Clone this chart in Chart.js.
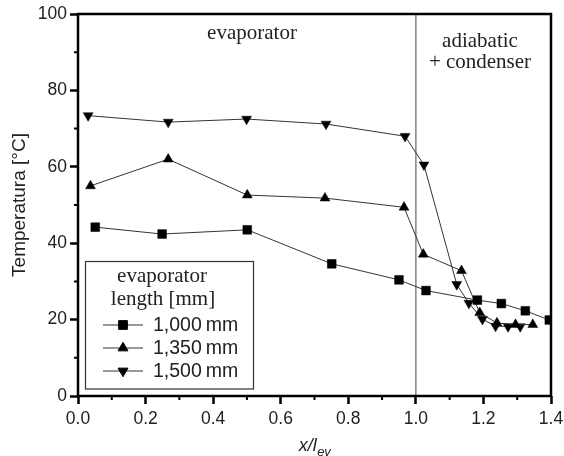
<!DOCTYPE html>
<html>
<head>
<meta charset="utf-8">
<script src="https://cdn.jsdelivr.net/npm/chart.js@4.4.1/dist/chart.umd.min.js"></script>
<style>
  html, body { margin: 0; padding: 0; background: #fff; }
  #wrap { width: 564px; height: 456px; }
</style>
</head>
<body>
<div id="wrap"><canvas id="myChart"></canvas></div>
<script>
// valores
const seriesLabels = ['1,000\u2009mm', '1,350\u2009mm', '1,500\u2009mm'];
const x1000 = [0.051, 0.249, 0.501, 0.751, 0.950, 1.030, 1.182, 1.253, 1.324, 1.395];
const t1000 = [44.2, 42.4, 43.5, 34.6, 30.4, 27.6, 25.1, 24.2, 22.3, 19.9];
const x1350 = [0.037, 0.267, 0.501, 0.731, 0.965, 1.022, 1.135, 1.189, 1.240, 1.295, 1.346];
const t1350 = [55.0, 62.0, 52.6, 51.8, 49.4, 37.1, 32.8, 21.8, 19.1, 18.7, 18.7];
const x1500 = [0.030, 0.267, 0.499, 0.734, 0.968, 1.024, 1.121, 1.157, 1.197, 1.236, 1.273, 1.309];
const t1500 = [73.4, 71.7, 72.5, 71.2, 68.0, 60.5, 29.2, 24.3, 20.1, 18.3, 18.2, 18.2];
const xMinorTicks = [0.1, 0.3, 0.5, 0.7, 0.9, 1.1, 1.3];
const yMinorTicks = [10, 30, 50, 70, 90];
const dividerX = 1.0;
const legendTitle = ['evaporator', 'length [mm]'];
const regionLabels = ['evaporator', 'adiabatic', '+ condenser'];

const ctx = document.getElementById('myChart');

function toPoints(xs, ys) {
  return xs.map((x, i) => ({ x: x, y: ys[i] }));
}

function serie(label, xs, ys, style, rot, r) {
  return {
    label: label,
    data: toPoints(xs, ys),
    showLine: true,
    borderColor: '#333',
    borderWidth: 1,
    pointStyle: style,
    rotation: rot,
    pointRadius: r,
    pointBackgroundColor: '#000',
    pointBorderColor: '#000',
    pointBorderWidth: 0.5
  };
}

const extras = {
  id: 'extras',
  beforeDatasetsDraw(chart) {
    const c = chart.ctx, a = chart.chartArea;
    const px = chart.scales.x.getPixelForValue(dividerX);
    c.save();
    c.strokeStyle = '#8c8c8c';
    c.lineWidth = 1.6;
    c.beginPath();
    c.moveTo(px, a.top);
    c.lineTo(px, a.bottom);
    c.stroke();
    c.restore();
  },
  afterDraw(chart) {
    const c = chart.ctx, a = chart.chartArea;
    const sx = chart.scales.x, sy = chart.scales.y;
    c.save();
    // moldura
    c.strokeStyle = '#000';
    c.lineWidth = 2.5;
    c.strokeRect(a.left, a.top, a.right - a.left, a.bottom - a.top);
    // ticks menores
    c.lineWidth = 2;
    c.beginPath();
    xMinorTicks.forEach(v => {
      const p = sx.getPixelForValue(v);
      c.moveTo(p, a.bottom); c.lineTo(p, a.bottom + 4);
    });
    yMinorTicks.forEach(v => {
      const p = sy.getPixelForValue(v);
      c.moveTo(a.left, p); c.lineTo(a.left - 4, p);
    });
    c.stroke();

    // textos das regioes
    c.fillStyle = '#222';
    c.font = '21px "Liberation Serif"';
    c.textAlign = 'center';
    c.textBaseline = 'middle';
    c.fillText(regionLabels[0], 252, 33);
    c.fillText(regionLabels[1], 480, 41);
    c.fillText(regionLabels[2], 480, 62);

    // legenda
    c.fillStyle = '#fff';
    c.fillRect(85.5, 261.5, 168, 127.5);
    c.strokeStyle = '#333';
    c.lineWidth = 1.2;
    c.strokeRect(85.5, 261.5, 168, 127.5);
    c.fillStyle = '#222';
    c.fillText(legendTitle[0], 162, 276);
    c.fillText(legendTitle[1], 163, 299);
    chart.data.datasets.forEach((ds, i) => {
      const y = 325 + i * 23;
      c.strokeStyle = '#333';
      c.lineWidth = 1;
      c.beginPath();
      c.moveTo(103, y); c.lineTo(143, y);
      c.stroke();
      c.fillStyle = '#000';
      c.strokeStyle = '#000';
      Chart.helpers.drawPoint(c, {
        pointStyle: ds.pointStyle, radius: ds.pointRadius,
        rotation: ds.rotation, borderWidth: 0.5
      }, 123, y);
      c.fillStyle = '#222';
      c.font = '19.5px "Liberation Sans"';
      c.textAlign = 'left';
      c.fillText(ds.label, 153, y + 1);
    });

    // titulo do eixo x com indice
    c.fillStyle = '#222';
    c.textBaseline = 'alphabetic';
    c.textAlign = 'left';
    c.font = 'italic 18px "Liberation Sans"';
    const main = 'x/l';
    const w1 = c.measureText(main).width;
    c.font = 'italic 13px "Liberation Sans"';
    const w2 = c.measureText('ev').width;
    const x0 = (a.left + a.right) / 2 - (w1 + w2) / 2;
    c.font = 'italic 18px "Liberation Sans"';
    c.fillText(main, x0, 451);
    c.font = 'italic 13px "Liberation Sans"';
    c.fillText('ev', x0 + w1 + 0.5, 455.5);
    c.restore();
  }
};

const myChart = new Chart(ctx, {
  type: 'scatter',
  data: {
    datasets: [
      serie(seriesLabels[0], x1000, t1000, 'rect', 0, 6.2),
      serie(seriesLabels[1], x1350, t1350, 'triangle', 0, 5.7),
      serie(seriesLabels[2], x1500, t1500, 'triangle', 180, 5.7)
    ]
  },
  options: {
    responsive: true,
    maintainAspectRatio: false,
    animation: false,
    layout: { padding: { top: 14, right: 13, left: 0, bottom: 0 } },
    plugins: {
      legend: { display: false },
      tooltip: { enabled: false }
    },
    scales: {
      x: {
        type: 'linear',
        min: 0, max: 1.4,
        border: { display: false },
        grid: { drawOnChartArea: false, drawTicks: true, tickLength: 8, tickWidth: 2.5, tickColor: '#000' },
        ticks: {
          stepSize: 0.2,
          padding: 5,
          color: '#222',
          font: { family: 'Liberation Sans', size: 17.5 },
          callback: v => v.toFixed(1)
        },
        afterFit: s => { s.height = 60; s.paddingLeft = 0; s.paddingRight = 0; }
      },
      y: {
        min: 0, max: 100,
        border: { display: false },
        grid: { drawOnChartArea: false, drawTicks: true, tickLength: 8, tickWidth: 2.5, tickColor: '#000' },
        ticks: {
          stepSize: 20,
          padding: 3,
          color: '#222',
          font: { family: 'Liberation Sans', size: 17.5 }
        },
        title: {
          display: true,
          text: 'Temperatura [°C]',
          color: '#222',
          font: { family: 'Liberation Sans', size: 19 },
          padding: { top: 8, bottom: 0 }
        },
        afterFit: s => { s.width = 78; s.paddingTop = 0; s.paddingBottom = 0; }
      }
    }
  },
  plugins: [extras]
});
</script>
</body>
</html>
